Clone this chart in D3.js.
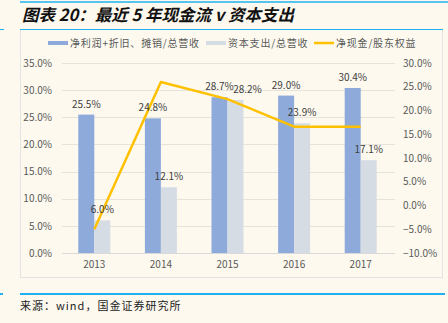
<!DOCTYPE html>
<html><head><meta charset="utf-8">
<script src="https://cdn.jsdelivr.net/npm/d3@7"></script>
<style>
html,body{margin:0;padding:0;background:#fdf9ef;}
svg{display:block;}
text{font-family:"Noto Sans CJK SC","Noto Sans",sans-serif;}
</style></head>
<body>
<script>
const categories = ["2013","2014","2015","2016","2017"];
const profitRatio = [25.5, 24.8, 28.7, 29.0, 30.4];   // 净利润+折旧、摊销/总营收
const capexRatio  = [6.0, 12.1, 28.2, 23.9, 17.1];    // 资本支出/总营收
const cashEquity  = [-5.0, 26.0, 22.4, 16.6, 16.6];   // 净现金/股东权益
const leftTicks  = [0,5,10,15,20,25,30,35];
const rightTicks = [-10,-5,0,5,10,15,20,25,30];
const seriesNames = ["净利润+折旧、摊销/总营收","资本支出/总营收","净现金/股东权益"];
const titleText = "图表 20：最近 5 年现金流 v 资本支出";
const sourceText = "来源：wind，国金证券研究所";

const W=448,H=323;
const svg=d3.select("body").append("svg").attr("width",W).attr("height",H);
const blue="#8eaadb", gray="#d6dce4", gold="#ffc000", txt="#595959", frame="#1fb1ef";

// frame lines
svg.append("line").attr("x1",20).attr("x2",448).attr("y1",2).attr("y2",2).attr("stroke",frame).attr("stroke-width",1.5);
svg.append("rect").attr("x",20.5).attr("y",29.5).attr("width",422).attr("height",248).attr("fill","none").attr("stroke","#e3e3e3").attr("stroke-width",1);
svg.append("line").attr("x1",20).attr("x2",443).attr("y1",29.5).attr("y2",29.5).attr("stroke",frame).attr("stroke-width",1);
svg.append("line").attr("x1",0).attr("x2",4).attr("y1",29.5).attr("y2",29.5).attr("stroke",frame).attr("stroke-width",1);
svg.append("line").attr("x1",20).attr("x2",445).attr("y1",294).attr("y2",294).attr("stroke",frame).attr("stroke-width",2);
svg.append("line").attr("x1",0).attr("x2",3).attr("y1",294).attr("y2",294).attr("stroke",frame).attr("stroke-width",2);

svg.append("text").attr("x",22).attr("y",21).attr("font-size",16.5).attr("font-weight","bold").attr("font-style","italic").attr("fill","#111").text(titleText);
svg.append("text").attr("x",20).attr("y",310).attr("font-size",11).attr("letter-spacing",1).attr("fill","#222").text(sourceText);

const x0=d3.scaleBand().domain(categories).range([62,395]).paddingInner(0).paddingOuter(0);
const barW=16;
const yL=d3.scaleLinear().domain([0,35]).range([253,63]);
const yR=d3.scaleLinear().domain([-10,30]).range([253,63]);
const fmt=v=>d3.format(".1f")(v)+"%";

// gridlines
svg.append("g").selectAll("line").data(leftTicks.slice(1)).join("line")
 .attr("x1",62).attr("x2",395).attr("y1",d=>Math.round(yL(d))+0.5).attr("y2",d=>Math.round(yL(d))+0.5)
 .attr("stroke","#e6e3dc").attr("stroke-width",1);

// left axis
const axL=svg.append("g").attr("transform","translate(62,0)").call(d3.axisLeft(yL).tickValues(leftTicks).tickFormat(fmt).tickSize(0).tickPadding(10));
axL.select(".domain").remove();
axL.selectAll("text").attr("fill",txt).attr("font-size",10).style("font-family",'"Noto Sans CJK SC",sans-serif');
const axR=svg.append("g").attr("transform","translate(395,0)").call(d3.axisRight(yR).tickValues(rightTicks).tickFormat(fmt).tickSize(0).tickPadding(8));
axR.select(".domain").remove();
axR.selectAll("text").attr("fill",txt).attr("font-size",10).style("font-family",'"Noto Sans CJK SC",sans-serif');

// bars
const cx=c=>x0(c)+x0.bandwidth()/2 - 1;
svg.append("g").selectAll("rect").data(categories).join("rect")
 .attr("x",(c)=>cx(c)-barW).attr("width",barW)
 .attr("y",(c,i)=>yL(profitRatio[i])).attr("height",(c,i)=>yL(0)-yL(profitRatio[i])).attr("fill",blue);
svg.append("g").selectAll("rect").data(categories).join("rect")
 .attr("x",(c)=>cx(c)).attr("width",barW)
 .attr("y",(c,i)=>yL(capexRatio[i])).attr("height",(c,i)=>yL(0)-yL(capexRatio[i])).attr("fill",gray);

// x axis
svg.append("line").attr("x1",62).attr("x2",395).attr("y1",253.5).attr("y2",253.5).attr("stroke","#d9d9d9");
const axB=svg.append("g").attr("transform","translate(0,253)").call(d3.axisBottom(x0).tickSize(0).tickPadding(8));
axB.select(".domain").remove();
axB.selectAll("text").attr("fill",txt).attr("font-size",10).style("font-family",'"Noto Sans CJK SC",sans-serif').attr("dx",-1);

// line
const line=d3.line().x((d,i)=>cx(categories[i])).y(d=>yR(d));
svg.append("path").datum(cashEquity).attr("d",line).attr("fill","none").attr("stroke",gold).attr("stroke-width",2.5).attr("stroke-linejoin","round");

// data labels
const lab=svg.append("g").attr("font-size",10).attr("fill","#404040").attr("text-anchor","middle");
categories.forEach((c,i)=>{
  lab.append("text").attr("x",cx(c)-barW/2).attr("y",yL(profitRatio[i])-7).text(fmt(profitRatio[i]));
  const close=Math.abs(profitRatio[i]-capexRatio[i])<2;
  lab.append("text").attr("x",cx(c)+barW/2+(close?12:0)).attr("y",yL(capexRatio[i])-7).text(fmt(capexRatio[i]));
});

// legend
const lg=svg.append("g").attr("font-size",10).attr("fill",txt).attr("letter-spacing",0.8);
const lgX=[48,206,314];
lg.append("rect").attr("x",lgX[0]).attr("y",41).attr("width",20).attr("height",4).attr("fill",blue);
lg.append("rect").attr("x",lgX[1]).attr("y",41).attr("width",20).attr("height",4).attr("fill",gray);
lg.append("line").attr("x1",lgX[2]).attr("x2",lgX[2]+20).attr("y1",43).attr("y2",43).attr("stroke",gold).attr("stroke-width",2.5);
seriesNames.forEach((n,i)=>lg.append("text").attr("x",lgX[i]+22).attr("y",46.5).text(n));
</script>
</body></html>
